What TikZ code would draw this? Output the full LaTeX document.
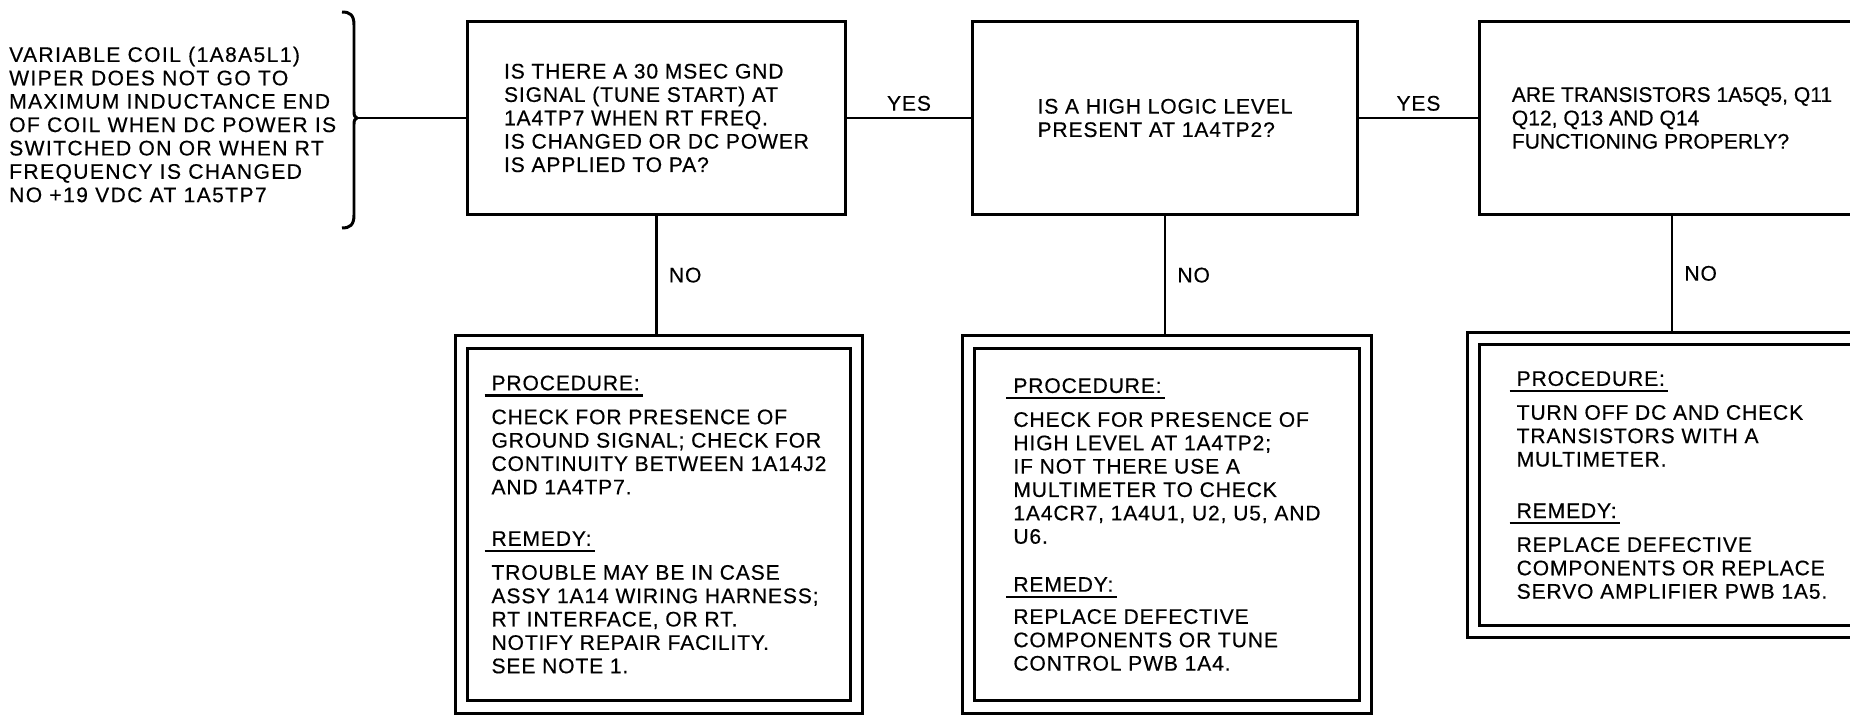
\documentclass[tikz,border=0pt]{standalone}
\usepackage{fontspec}
\setmainfont{Liberation Sans}[LetterSpace=4, FakeBold=0.4]
\usepackage{tikz}

\newcommand\rubric[1]{\setbox0\hbox{#1}\rlap{\hspace*{-4pt}\rule[-3.6pt]{\dimexpr\wd0+6pt\relax}{1.3pt}}\box0}

\begin{document}
\begin{tikzpicture}[font=\fontsize{12pt}{13.3pt}\selectfont,
  wire/.style={line width=1.5pt},
  qbox/.style={draw, line width=1.8pt, align=left},
  rbox/.style={draw, double, line width=1.7pt, double distance=5.5pt, outer sep=4.45pt, align=left}]
\clip (0,0) rectangle (37,-14.3);
\node[anchor=west, align=left, font=\fontsize{12pt}{13.3pt}\selectfont\addfontfeatures{LetterSpace=6.5}] (sym) at (0.06,-2.49) {VARIABLE COIL (1A8A5L1)\\WIPER DOES NOT GO TO\\MAXIMUM INDUCTANCE END\\OF COIL WHEN DC POWER IS\\SWITCHED ON OR WHEN RT\\FREQUENCY IS CHANGED\\NO +19 VDC AT 1A5TP7};
\draw[line width=1.7pt] (6.84,-0.24) .. controls (7.0,-0.24) and (7.08,-0.3) .. (7.08,-0.5) -- (7.08,-2.24)
  .. controls (7.08,-2.31) and (7.1,-2.35) .. (7.14,-2.36) .. controls (7.1,-2.37) and (7.08,-2.41) .. (7.08,-2.48)
  -- (7.08,-4.3) .. controls (7.08,-4.5) and (7.0,-4.56) .. (6.84,-4.56);
\coordinate (tip) at (7.14,-2.36);
% questions
\node[qbox, minimum width=7.56cm, minimum height=3.86cm] (q1) at (13.13,-2.36) {IS THERE A 30 MSEC GND\\SIGNAL (TUNE START) AT\\1A4TP7 WHEN RT FREQ.\\IS CHANGED OR DC POWER\\IS APPLIED TO PA?};
\node[qbox, minimum width=7.7cm, minimum height=3.86cm] (q2) at (23.3,-2.36) {IS A HIGH LOGIC LEVEL\\PRESENT AT 1A4TP2?};
\node[qbox, minimum width=7.7cm, minimum height=3.86cm, font=\fontsize{12pt}{13.3pt}\selectfont\addfontfeatures{LetterSpace=0}] (q3) at (33.44,-2.36) {ARE TRANSISTORS 1A5Q5, Q11\\Q12, Q13 AND Q14\\FUNCTIONING PROPERLY?};
% procedure / remedy
\node[rbox, minimum width=7.9cm, minimum height=7.3cm] (r1) at (13.18,-10.49) {\rubric{PROCEDURE:}\\[6pt]CHECK FOR PRESENCE OF\\GROUND SIGNAL; CHECK FOR\\CONTINUITY BETWEEN 1A14J2\\AND 1A4TP7.\\[16pt]\rubric{REMEDY:}\\[6pt]TROUBLE MAY BE IN CASE\\ASSY 1A14 WIRING HARNESS;\\RT INTERFACE, OR RT.\\NOTIFY REPAIR FACILITY.\\SEE NOTE 1.};
\node[rbox, minimum width=7.94cm, minimum height=7.3cm] (r2) at (23.34,-10.49) {\rubric{PROCEDURE:}\\[6pt]CHECK FOR PRESENCE OF\\HIGH LEVEL AT 1A4TP2;\\IF NOT THERE USE A\\MULTIMETER TO CHECK\\1A4CR7, 1A4U1, U2, U5, AND\\U6.\\[14pt]\rubric{REMEDY:}\\[5pt]REPLACE DEFECTIVE\\COMPONENTS OR TUNE\\CONTROL PWB 1A4.};
\node[rbox, minimum width=7.94cm, minimum height=5.86cm] (r3) at (33.44,-9.7) {\rubric{PROCEDURE:}\\[6pt]TURN OFF DC AND CHECK\\TRANSISTORS WITH A\\MULTIMETER.\\[16pt]\rubric{REMEDY:}\\[6pt]REPLACE DEFECTIVE\\COMPONENTS OR REPLACE\\SERVO AMPLIFIER PWB 1A5.};
% connectors
\draw[wire] (tip) -- (tip -| q1.west);
\foreach \a/\b in {1/2,2/3}
  \draw[wire] (q\a) -- node[above] {YES} (q\b);
\foreach \i in {1,2,3}
  \draw[wire] (q\i.south) -- node[right, xshift=3pt] {NO} (q\i.south |- r\i.north);
\end{tikzpicture}
\end{document}
